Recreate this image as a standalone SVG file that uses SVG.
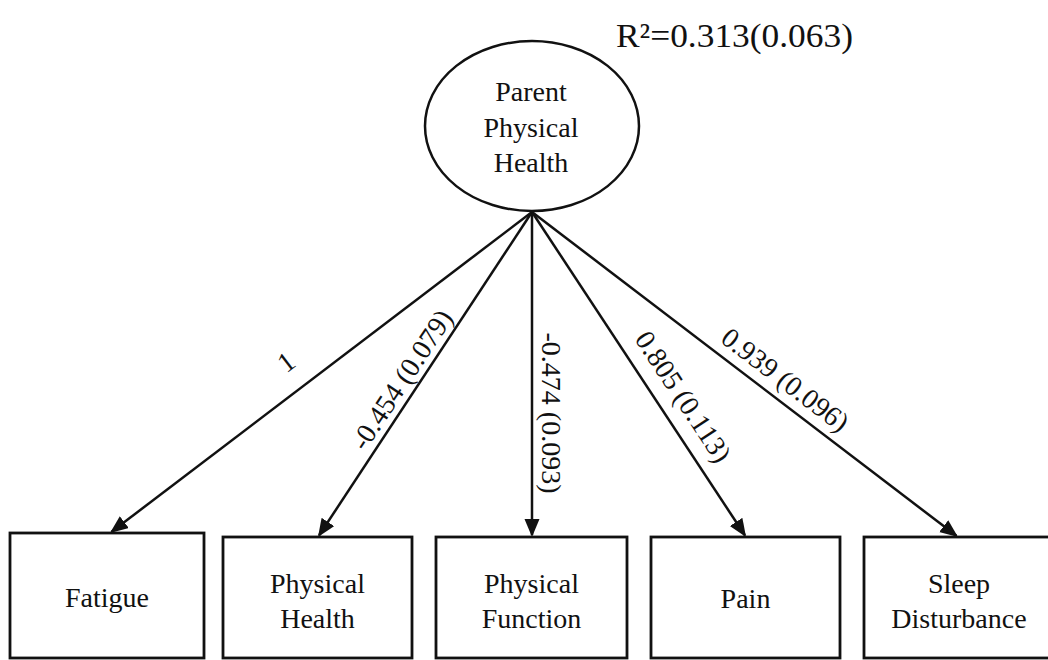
<svg xmlns="http://www.w3.org/2000/svg" width="1048" height="660" viewBox="0 0 1048 660">
<defs>
<style>
.t{font-family:"Liberation Serif","Times New Roman",serif;font-size:28px;fill:#111;text-anchor:middle}
.box{fill:#fff;stroke:#111;stroke-width:2.8}
.edge{stroke:#111;stroke-width:2.5;fill:none;marker-end:url(#arr)}
</style>
<marker id="arr" markerUnits="userSpaceOnUse" markerWidth="20" markerHeight="16" refX="16" refY="7.5" orient="auto">
<path d="M0,0 L18,7.5 L0,15 z" fill="#111"/>
</marker>
</defs>
<rect width="1048" height="660" fill="#fff"/>
<text x="616" y="47" font-family="Liberation Serif, Times New Roman, serif" font-size="33" fill="#111" textLength="237" lengthAdjust="spacingAndGlyphs">R²=0.313(0.063)</text>
<g id="latent">
<ellipse cx="532" cy="126" rx="107" ry="85" fill="#fff" stroke="#111" stroke-width="2.5"/>
<text class="t" x="531" y="101">Parent</text>
<text class="t" x="531" y="137">Physical</text>
<text class="t" x="531" y="172">Health</text>
</g>
<g id="connectors">
<line class="edge" x1="532" y1="212" x2="111.6" y2="531.8"/>
<line class="edge" x1="532" y1="212" x2="319.1" y2="535.3"/>
<line class="edge" x1="532" y1="212" x2="532" y2="535"/>
<line class="edge" x1="532" y1="212" x2="744.9" y2="535.3"/>
<line class="edge" x1="532" y1="212" x2="956.4" y2="535.8"/>
<text class="t" transform="translate(286,362) rotate(-37.3)" y="9.5">1</text>
<text class="t" transform="translate(402,380) rotate(-56.6)" y="9">-0.454 (0.079)</text>
<text class="t" transform="translate(551,413) rotate(90)" y="9">-0.474 (0.093)</text>
<text class="t" transform="translate(683,397) rotate(56.6)" y="9">0.805 (0.113)</text>
<text class="t" transform="translate(785,380) rotate(37.3)" y="9">0.939 (0.096)</text>
</g>
<g id="fatigue">
<rect class="box" x="10" y="533" width="194" height="125"/>
<text class="t" x="107" y="607">Fatigue</text>
</g>
<g id="physical-health">
<rect class="box" x="223" y="537" width="189" height="121"/>
<text class="t" x="317.5" y="593">Physical</text>
<text class="t" x="317.5" y="628">Health</text>
</g>
<g id="physical-function">
<rect class="box" x="436" y="537" width="191" height="121"/>
<text class="t" x="531.5" y="593">Physical</text>
<text class="t" x="531.5" y="628">Function</text>
</g>
<g id="pain">
<rect class="box" x="651" y="537" width="189" height="121"/>
<text class="t" x="745.5" y="608">Pain</text>
</g>
<g id="sleep-disturbance">
<rect class="box" x="864" y="537" width="191" height="121"/>
<text class="t" x="959" y="593">Sleep</text>
<text class="t" x="959" y="628">Disturbance</text>
</g>
</svg>
